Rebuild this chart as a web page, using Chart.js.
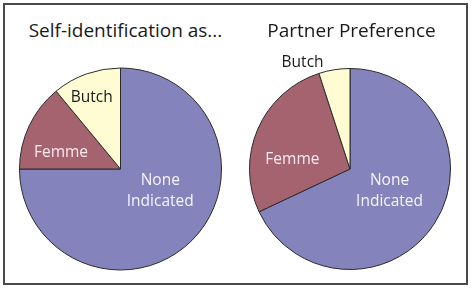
<!DOCTYPE html>
<html>
<head>
<meta charset="utf-8">
<script src="https://cdn.jsdelivr.net/npm/chart.js@4/dist/chart.umd.min.js"></script>
<style>
  body { margin: 0; background: #fff; font-family: 'Open Sans', sans-serif; }
  #wrap { position: relative; width: 474px; height: 290px; overflow: hidden; }
  #frame { position: absolute; left: 3px; top: 3px; width: 461px; height: 278px; border: 2px solid #4a4a4a; }
  .box { position: absolute; top: 0; width: 237px; height: 290px; }
  .title { position: absolute; top: 17px; left: 0; width: 100%; text-align: center; font-size: 19px; color: #1a1a1a; white-space: nowrap; }
  canvas { position: absolute; left: 0; top: 0; }
</style>
</head>
<body>
<div id="wrap">
  <div id="frame"></div>
  <div class="box" id="boxL" style="left:0">
    <div class="title" style="left:7px">Self-identification as...</div>
    <canvas id="chartSelf" width="237" height="290"></canvas>
  </div>
  <div class="box" id="boxR" style="left:237px">
    <div class="title" style="left:-4px">Partner Preference</div>
    <canvas id="chartPartner" width="237" height="290"></canvas>
  </div>
</div>
<script>
// datos
var categorias = ['None Indicated', 'Femme', 'Butch'];
var etiquetas = [['None', 'Indicated'], ['Femme'], ['Butch']];
var autoIdentificacion = [75, 14, 11];
var preferenciaPareja = [68, 27, 5];

var colores = ['#8483bc', '#a4636e', '#fffbd3'];
var coloresTexto = ['#f4f4ff', '#f8eaee', '#1a1a1a'];

// label placement: angle from 12 o'clock (deg, clockwise) and distance as fraction of radius
var posSelf = [{ a: 119, d: 0.45 }, { a: 285, d: 0.61 }, { a: 338, d: 0.76 }];
var posPartner = [{ a: 119, d: 0.45 }, { a: 279, d: 0.58 }, { a: 336, d: 1.16 }];

var pluginEtiquetas = {
  id: 'etiquetas',
  afterDatasetsDraw: function (chart) {
    var ctx = chart.ctx;
    var meta = chart.getDatasetMeta(0);
    var pos = chart.options.plugins.etiquetas.pos;
    ctx.save();
    ctx.font = '15.5px "Open Sans", sans-serif';
    ctx.textAlign = 'center';
    ctx.textBaseline = 'middle';
    for (var i = 0; i < meta.data.length; i++) {
      var arc = meta.data[i];
      var p = pos[i];
      var ang = (p.a - 90) * Math.PI / 180;
      var x = arc.x + Math.cos(ang) * arc.outerRadius * p.d;
      var y = arc.y + Math.sin(ang) * arc.outerRadius * p.d;
      var lineas = etiquetas[i];
      var lh = 21;
      ctx.fillStyle = coloresTexto[i];
      for (var j = 0; j < lineas.length; j++) {
        ctx.fillText(lineas[j], x, y + (j - (lineas.length - 1) / 2) * lh);
      }
    }
    ctx.restore();
  }
};

function crearPie(id, valores, pos, padding) {
  return new Chart(document.getElementById(id), {
    type: 'pie',
    data: {
      labels: categorias,
      datasets: [{
        data: valores,
        backgroundColor: colores,
        borderColor: '#2b2b2b',
        borderWidth: 1
      }]
    },
    options: {
      responsive: false,
      animation: false,
      layout: { padding: padding },
      plugins: {
        legend: { display: false },
        tooltip: { enabled: false },
        etiquetas: { pos: pos }
      }
    },
    plugins: [pluginEtiquetas]
  });
}

crearPie('chartSelf', autoIdentificacion, posSelf, { left: 19, right: 15, top: 67, bottom: 19 });
crearPie('chartPartner', preferenciaPareja, posPartner, { left: 12, right: 23, top: 68, bottom: 20 });
</script>
</body>
</html>
